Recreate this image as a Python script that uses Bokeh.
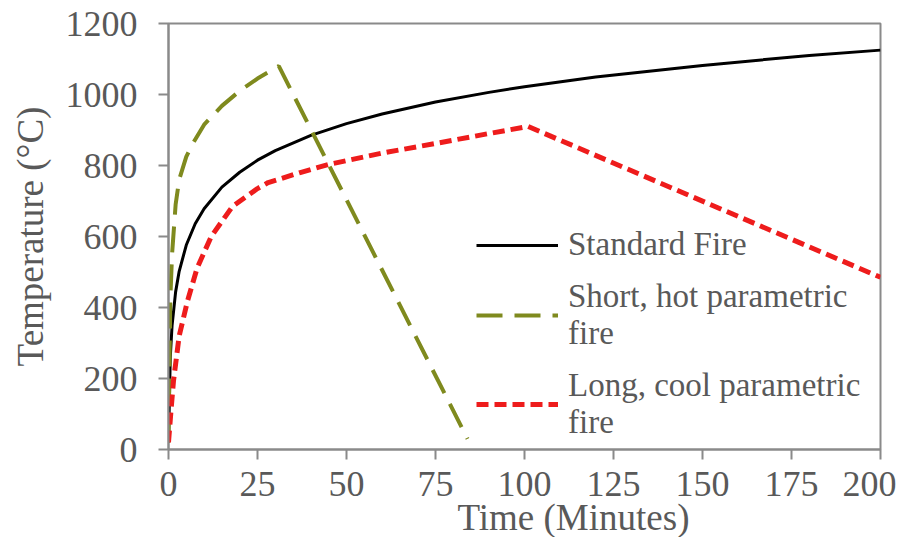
from bokeh.plotting import figure
from bokeh.models import Range1d, FixedTicker, Legend, LegendItem, Title
from bokeh.embed import file_html
from bokeh.resources import INLINE

# Standard fire curve
std_t = [0, 0.5, 1, 2, 3, 5, 7.5, 10, 15, 20, 25, 30, 40, 50, 60, 75, 90, 100, 120, 150, 180, 200]
std_T = [20, 260, 349, 444, 502, 576, 636, 678, 739, 781, 815, 842, 885, 918, 945, 979, 1006, 1022, 1049, 1082, 1110, 1125]

# Short, hot parametric fire
short_t = [0, 0.5, 1, 2, 3, 5, 7, 10, 15, 20, 25, 31, 84]
short_T = [20, 420, 550, 690, 760, 825, 865, 915, 968, 1010, 1045, 1080, 30]

# Long, cool parametric fire
long_t = [0, 0.7, 1.4, 3, 5.3, 8, 12, 18, 25, 28, 37, 45, 60, 75, 90, 101, 200]
long_T = [20, 110, 193, 320, 417, 510, 600, 685, 735, 752, 780, 803, 835, 862, 890, 910, 485]

x_ticks = [0, 25, 50, 75, 100, 125, 150, 175, 200]
y_ticks = [0, 200, 400, 600, 800, 1000, 1200]

FONT = "Liberation Serif"
AXIS_GRAY = "#8a8a8a"
TEXT_GRAY = "#595959"

p = figure(width=896, height=537, output_backend="svg", toolbar_location=None,
           x_range=Range1d(0, 200), y_range=Range1d(0, 1200),
           min_border_left=168, min_border_right=16, min_border_top=23, min_border_bottom=88)

p.background_fill_color = "white"
p.border_fill_color = "white"
p.outline_line_color = AXIS_GRAY
p.outline_line_width = 2
p.xgrid.visible = False
p.ygrid.visible = False

r_std = p.line(std_t, std_T, line_color="black", line_width=3)
r_short = p.line(short_t, short_T, line_color="#7f8a1e", line_width=4, line_dash="26 12")
r_long = p.line(long_t, long_T, line_color="#ee1c1c", line_width=5, line_dash="12 6")

for ax, ticks in ((p.xaxis[0], x_ticks), (p.yaxis[0], y_ticks)):
    ax.ticker = FixedTicker(ticks=ticks)
    ax.axis_line_color = AXIS_GRAY
    ax.axis_line_width = 2
    ax.major_tick_line_color = AXIS_GRAY
    ax.major_tick_line_width = 2
    ax.major_tick_out = 10
    ax.major_tick_in = 0
    ax.minor_tick_line_color = None
    ax.major_label_text_font = FONT
    ax.major_label_text_font_size = "36px"
    ax.major_label_text_color = TEXT_GRAY
    ax.axis_label_text_font = FONT
    ax.axis_label_text_font_size = "37px"
    ax.axis_label_text_font_style = "normal"
    ax.axis_label_text_color = TEXT_GRAY

p.yaxis[0].axis_label = "Temperature (°C)"
p.xaxis[0].major_label_standoff = 12
p.yaxis[0].major_label_standoff = 21
p.yaxis[0].axis_label_standoff = 12

# x-axis title, placed off-centre as in the reference
xtitle = Title(text="Time (Minutes)", align="left", offset=289, standoff=-7,
               text_font=FONT, text_font_size="37px", text_font_style="normal",
               text_color=TEXT_GRAY)
p.add_layout(xtitle, "below")

legend = Legend(items=[
    LegendItem(label="Standard Fire", renderers=[r_std]),
    LegendItem(label="Short, hot parametric\nfire", renderers=[r_short]),
    LegendItem(label="Long, cool parametric\nfire", renderers=[r_long]),
], location=(308, 8))
legend.background_fill_alpha = 0
legend.border_line_color = None
legend.label_text_font = FONT
legend.label_text_font_size = "33px"
legend.label_text_line_height = 0.95
legend.label_text_color = TEXT_GRAY
legend.glyph_width = 82
legend.label_standoff = 10
legend.spacing = 15
legend.padding = 0
legend.margin = 0
p.add_layout(legend)

open("out.html", "w").write(file_html(p, INLINE))
